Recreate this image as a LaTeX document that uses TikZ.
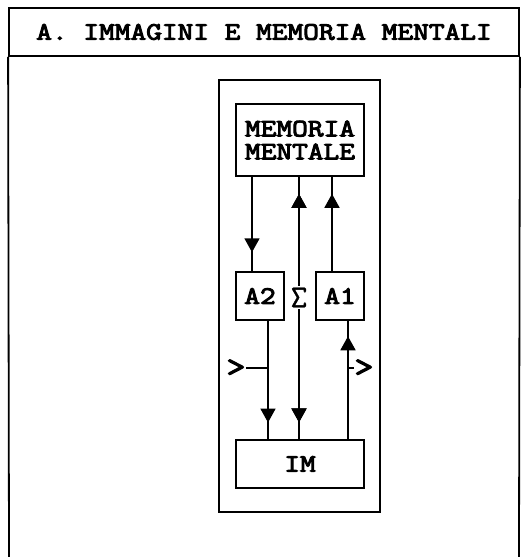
\documentclass[tikz,border=0pt]{standalone}
\usepackage{fontspec}
\newfontfamily\macchina[FakeBold=4,FakeStretch=1.22]{Latin Modern Mono}
\newfontfamily\sottile[FakeBold=1]{Latin Modern Mono}
\usetikzlibrary{arrows.meta,decorations.markings}
\begin{document}
\begin{tikzpicture}[x=1pt,y=-1pt,line width=1.8pt,
	font=\macchina\fontsize{25}{23}\selectfont,
	box/.style={draw,rectangle,inner sep=0pt,align=center},
	segno/.style={inner sep=0pt,font=\macchina\fontsize{30}{30}\selectfont},
	punta/.style={decoration={markings,mark=at position #1 with {\arrow{Triangle[width=15pt,length=14pt]}}},postaction={decorate}},
	puntainv/.style={decoration={markings,mark=at position #1 with {\arrowreversed{Triangle[width=15pt,length=14pt]}}},postaction={decorate}}]
	\useasboundingbox (0,0) rectangle (523,557);
	
	% titolo e cornice
	\node[box,minimum width=510pt,minimum height=48pt] (titolo) at (264,32) {A. IMMAGINI E MEMORIA MENTALI};
	\coordinate (basesx) at (9,557);
	\coordinate (basedx) at (519,557);
	\draw (titolo.south west) -- (basesx);
	\draw (titolo.south east) -- (basedx);
	\draw (219,80) rectangle (380,512);
	
	% blocchi
	\node[box,minimum width=128pt,minimum height=72pt] (mem) at (300,140) {MEMORIA\\MENTALE};
	\node[box,minimum size=48pt] (a2) at (260,296) {A2};
	\node[box,minimum size=48pt] (a1) at (340,296) {A1};
	\node[box,minimum width=128pt,minimum height=48pt] (im) at (300,464) {IM};
	
	% frecce
	\draw[punta=0.8] ([xshift=-48pt]mem.south) -- ([xshift=-8pt]a2.north);
	\draw[punta=0.82] ([xshift=-8pt]a1.north) -- ([xshift=32pt]mem.south);
	\draw[puntainv=0.065,punta=0.936] ([xshift=-1pt]mem.south) -- node[segno,pos=0.46,fill=white,inner ysep=2pt,font=\sottile\fontsize{32}{32}\selectfont] (sigma) {Σ} ([xshift=-1pt]im.north);
	\draw[punta=0.86] ([xshift=8pt]a2.south) -- ([xshift=-32pt]im.north);
	\draw[punta=0.87] ([xshift=48pt]im.north) -- ([xshift=8pt]a1.south);
	
	% ingressi laterali
	\node[segno] (insx) at (236,368) {>};
	\node[segno] (indx) at (364,368) {>};
	\coordinate (nodosx) at (268,368);
	\coordinate (nododx) at (348,368);
	\draw (insx.east) -- (nodosx);
	\draw (nododx) -- (indx.west);
\end{tikzpicture}
\end{document}
